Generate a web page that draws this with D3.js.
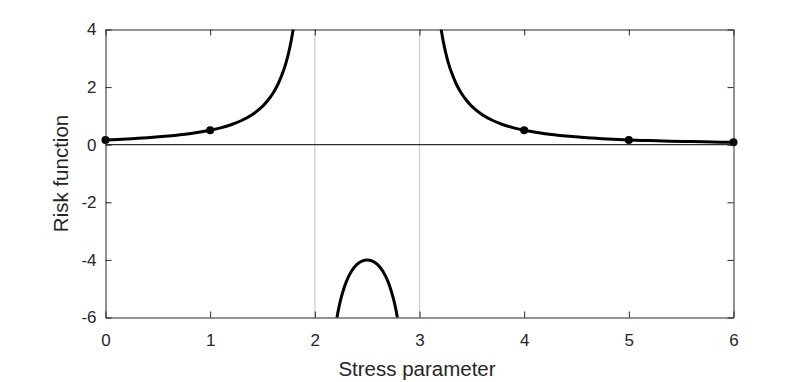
<!DOCTYPE html>
<html><head><meta charset="utf-8">
<script src="https://cdn.jsdelivr.net/npm/d3@7"></script>
<style>body{margin:0;background:#fff}svg{display:block}text{font-family:"Liberation Sans",Arial,sans-serif;fill:#262626}</style>
</head><body><svg id="c" width="810" height="382"></svg>
<script>
const xTicks = [0,1,2,3,4,5,6];
const yTicks = [-6,-4,-2,0,2,4];
const asymptotes = [2,3];
const markerX = [0,1,4,5,6];
const markerY = [0.167,0.5,0.5,0.167,0.083];
const leftX = [0,0.2,0.4,0.6,0.8,1.0,1.1,1.2,1.3,1.4,1.5,1.55,1.6,1.65,1.7,1.725,1.75,1.775,1.8,1.82];
const leftY = [0.167,0.198,0.240,0.298,0.379,0.5,0.585,0.694,0.840,1.042,1.333,1.533,1.786,2.116,2.564,2.852,3.2,3.628,4.167,4.708];
const midX = [2.2,2.225,2.25,2.3,2.35,2.4,2.45,2.5,2.55,2.6,2.65,2.7,2.75,2.775,2.8];
const midY = [-6.25,-5.735,-5.333,-4.762,-4.396,-4.167,-4.040,-4.0,-4.040,-4.167,-4.396,-4.762,-5.333,-5.735,-6.25];
const rightX = [3.18,3.2,3.225,3.25,3.275,3.3,3.35,3.4,3.45,3.5,3.6,3.7,3.8,3.9,4.0,4.2,4.4,4.6,4.8,5.0,5.2,5.4,5.6,5.8,6.0];
const rightY = [4.708,4.167,3.628,3.2,2.852,2.564,2.116,1.786,1.533,1.333,1.042,0.840,0.694,0.585,0.5,0.379,0.298,0.240,0.198,0.167,0.142,0.123,0.107,0.094,0.083];

const svg = d3.select("#c");
const L=105.5, R=733.5, T=29.5, B=317.5;
const x = d3.scaleLinear().domain([0,6]).range([L,R]);
const y = d3.scaleLinear().domain([-6,4]).range([B,T]);
const axc = "#262626";

svg.append("clipPath").attr("id","clip").append("rect").attr("x",L).attr("y",T).attr("width",R-L).attr("height",B-T);

svg.selectAll(".asy").data(asymptotes).enter().append("line")
  .attr("x1",d=>x(d)).attr("x2",d=>x(d)).attr("y1",T).attr("y2",B)
  .attr("stroke","#cccccc").attr("stroke-width",1.2);
svg.append("line").attr("x1",L).attr("x2",R).attr("y1",y(0)).attr("y2",y(0)).attr("stroke","#000").attr("stroke-width",1);

const line = d3.line().x(d=>x(d[0])).y(d=>y(d[1])).curve(d3.curveCatmullRom.alpha(0.5));
const g = svg.append("g").attr("clip-path","url(#clip)");
[[leftX,leftY],[midX,midY],[rightX,rightY]].forEach(([xs,ys])=>{
  g.append("path").datum(xs.map((v,i)=>[v,ys[i]])).attr("d",line)
   .attr("fill","none").attr("stroke","#000").attr("stroke-width",3);
});
svg.selectAll(".mk").data(markerX.map((v,i)=>[v,markerY[i]])).enter().append("circle")
  .attr("cx",d=>x(d[0])).attr("cy",d=>y(d[1])).attr("r",4).attr("fill","#000");

const tl = 6;
const fmt = d3.format("d");
const axB = d3.axisBottom(x).tickValues(xTicks).tickSizeInner(-tl).tickSizeOuter(0).tickPadding(16).tickFormat(fmt);
const axT = d3.axisTop(x).tickValues(xTicks).tickSizeInner(-tl).tickSizeOuter(0).tickFormat("");
const axL = d3.axisLeft(y).tickValues(yTicks).tickSizeInner(-tl).tickSizeOuter(0).tickPadding(9).tickFormat(d=>d<0?"-"+Math.abs(d):fmt(d));
const axR = d3.axisRight(y).tickValues(yTicks).tickSizeInner(-tl).tickSizeOuter(0).tickFormat("");
function style(s){s.select(".domain").attr("stroke",axc).attr("stroke-width",1);s.selectAll(".tick line").attr("stroke",axc);s.selectAll("text").attr("fill",axc).style("font-size","17px").style("font-family","Liberation Sans, Arial, sans-serif");}
svg.append("g").attr("transform",`translate(0,${B})`).call(axB).call(style);
svg.append("g").attr("transform",`translate(0,${T})`).call(axT).call(style);
svg.append("g").attr("transform",`translate(${L},0)`).call(axL).call(style);
svg.append("g").attr("transform",`translate(${R},0)`).call(axR).call(style);

svg.append("text").attr("x",417).attr("y",376).attr("text-anchor","middle").style("font-size","20.5px").text("Stress parameter");
svg.append("text").attr("transform",`translate(68,${(T+B)/2}) rotate(-90)`).attr("text-anchor","middle").style("font-size","20.5px").text("Risk function");
</script></body></html>
